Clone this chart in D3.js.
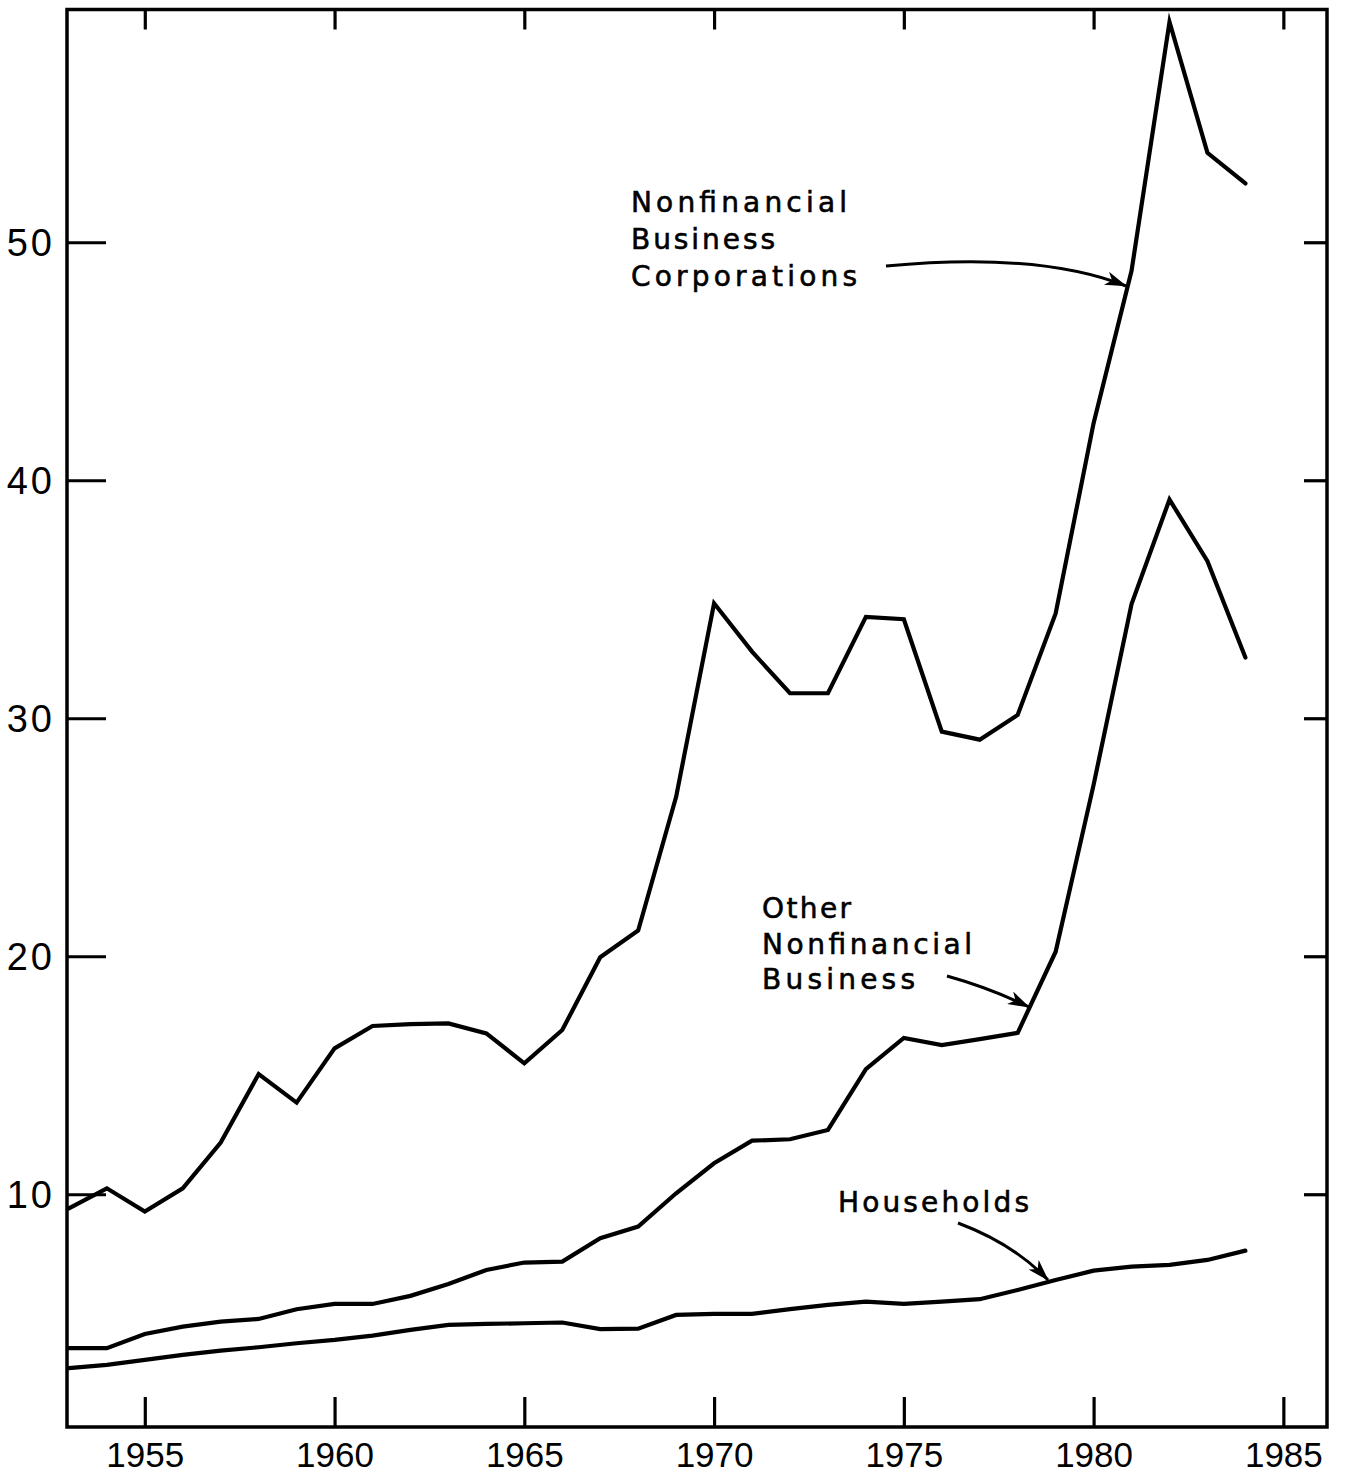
<!DOCTYPE html>
<html><head><meta charset="utf-8">
<script src="https://cdn.jsdelivr.net/npm/d3@7"></script>
<style>body{margin:0;background:#fff}</style>
</head><body>
<svg id="c" width="1352" height="1476"></svg>
<script>
// ---- data ----
const years = [1953,1954,1955,1956,1957,1958,1959,1960,1961,1962,1963,1964,1965,1966,1967,1968,
               1969,1970,1971,1972,1973,1974,1975,1976,1977,1978,1979,1980,1981,1982,1983,1984];
const nonfinancialCorporations = [9.41,10.25,9.27,10.25,12.17,15.05,13.85,16.13,17.07,17.15,17.18,16.76,15.50,16.90,19.96,21.08,
               26.7,34.83,32.8,31.05,31.05,34.26,34.16,29.44,29.10,30.14,34.40,42.4,48.8,59.26,53.76,52.47];
const otherNonfinancialBusiness = [3.53,3.53,4.13,4.44,4.65,4.76,5.17,5.39,5.39,5.73,6.23,6.82,7.13,7.17,8.15,8.64,
               10.04,11.3,12.25,12.31,12.7,15.26,16.57,16.27,16.52,16.78,20.19,27.2,34.8,39.19,36.6,32.55];
const households = [2.69,2.83,3.04,3.25,3.43,3.57,3.74,3.88,4.06,4.30,4.51,4.55,4.58,4.61,4.33,4.35,
               4.93,4.97,4.97,5.17,5.35,5.49,5.39,5.49,5.59,5.98,6.40,6.79,6.96,7.03,7.24,7.63];
const xTickYears = [1955,1960,1965,1970,1975,1980,1985];
const yTickValues = [10,20,30,40,50];
const labelNFC = ["Nonfinancial","Business","Corporations"];
const labelOther = ["Other","Nonfinancial","Business"];
const labelHouseholds = ["Households"];

// ---- layout ----
const frame = {left:67, right:1327, top:9.5, bottom:1427};
const svg = d3.select("#c");
const x = d3.scaleLinear().domain([1952.95, 1986.15]).range([frame.left, frame.right]);
const y = d3.scaleLinear().domain([0.22, 59.78]).range([frame.bottom, frame.top]);

// frame
svg.append("rect").attr("x",frame.left).attr("y",frame.top)
  .attr("width",frame.right-frame.left).attr("height",frame.bottom-frame.top)
  .attr("fill","none").attr("stroke","#000").attr("stroke-width",3.5);

function styleAxis(g){
  g.select(".domain").remove();
  g.selectAll(".tick line").attr("stroke","#000").attr("stroke-width",3.2);
}

// bottom axis
svg.append("g").attr("transform",`translate(0,${frame.bottom})`)
  .call(d3.axisBottom(x).tickValues(xTickYears).tickFormat(d3.format("d"))
        .tickSizeInner(-30).tickSizeOuter(0).tickPadding(15))
  .call(styleAxis)
  .call(g=>g.selectAll("text").attr("font-family","Liberation Sans, Arial, sans-serif")
        .attr("font-size",35).attr("fill","#000"));
// top axis (ticks only)
svg.append("g").attr("transform",`translate(0,${frame.top})`)
  .call(d3.axisTop(x).tickValues(xTickYears).tickFormat("")
        .tickSizeInner(-20).tickSizeOuter(0))
  .call(styleAxis);
// left axis
svg.append("g").attr("transform",`translate(${frame.left},0)`)
  .call(d3.axisLeft(y).tickValues(yTickValues).tickFormat(d3.format("d"))
        .tickSizeInner(-39).tickSizeOuter(0).tickPadding(12))
  .call(styleAxis)
  .call(g=>g.selectAll("text").attr("font-family","Liberation Sans, Arial, sans-serif")
        .attr("font-size",38).attr("fill","#000").attr("letter-spacing",3).attr("dy","0.36em"));
// right axis (ticks only)
svg.append("g").attr("transform",`translate(${frame.right},0)`)
  .call(d3.axisRight(y).tickValues(yTickValues).tickFormat("")
        .tickSizeInner(-23).tickSizeOuter(0))
  .call(styleAxis);

// series lines
const line = d3.line().x((d,i)=>x(years[i])).y(d=>y(d));
[nonfinancialCorporations, otherNonfinancialBusiness, households].forEach(s=>{
  svg.append("path").attr("d",line(s)).attr("fill","none").attr("stroke","#000")
    .attr("stroke-width",4.2).attr("stroke-linejoin","miter").attr("stroke-miterlimit",6)
    .attr("stroke-linecap","round");
});

// arrow marker
svg.append("defs").append("marker").attr("id","ah")
  .attr("viewBox","0 0 22 14").attr("refX",21).attr("refY",7)
  .attr("markerWidth",22).attr("markerHeight",14).attr("markerUnits","userSpaceOnUse")
  .attr("orient","auto")
  .append("path").attr("d","M0,0 L22,7 L0,14 L6,7 Z").attr("fill","#000");

function arrow(d){
  svg.append("path").attr("d",d).attr("fill","none").attr("stroke","#000")
    .attr("stroke-width",3).attr("marker-end","url(#ah)");
}
arrow("M886,266 C950,260 1050,256 1126,286");
arrow("M947,976 Q990,988 1029,1007");
arrow("M958,1223 Q1014,1244 1048,1280");

// labels
function label(lines, x0, baselines, lengths){
  lines.forEach((t,i)=>{
    svg.append("text").attr("x",x0).attr("y",baselines[i]).text(t)
      .attr("font-family","DejaVu Sans, sans-serif").attr("font-size",28)
      .attr("fill","#000").attr("stroke","#000").attr("stroke-width",0.6)
      .attr("textLength",lengths[i]).attr("lengthAdjust","spacing");
  });
}
label(labelNFC, 631, [212,249,286], [216,144,226]);
label(labelOther, 762, [918,954,989], [89,210,153]);
label(labelHouseholds, 838, [1212], [191]);
</script>
</body></html>
